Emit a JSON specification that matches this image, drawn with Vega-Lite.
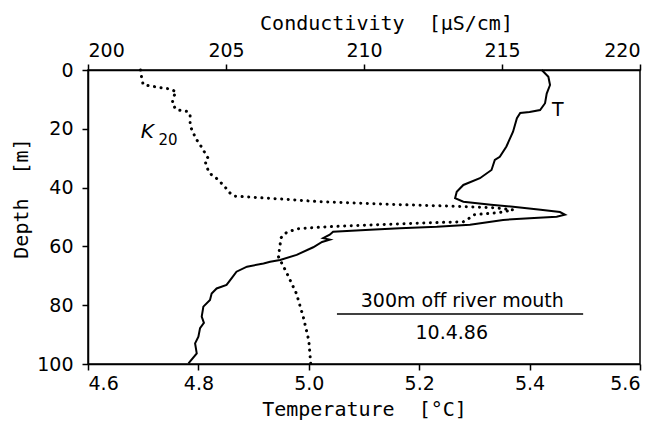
{
  "$schema": "https://vega.github.io/schema/vega-lite/v6.json",
  "width": 552,
  "height": 294,
  "autosize": {"type": "none"},
  "padding": {"left": 88, "top": 70, "right": 14, "bottom": 64},
  "background": "white",
  "config": {
    "view": {"stroke": "black", "strokeWidth": 1.5},
    "axis": {
      "domainColor": "black", "tickColor": "black", "labelColor": "black", "titleColor": "black",
      "labelFont": "DejaVu Sans", "titleFont": "DejaVu Sans Mono", "labelFontSize": 19, "titleFontSize": 20,
      "titleFontWeight": "normal", "grid": false, "domainWidth": 1.5, "tickWidth": 1.5, "tickSize": 6
    },
    "text": {"font": "DejaVu Sans", "color": "black"}
  },
  "datasets": {
    "temp": [
      {"i": 1, "temperature": 5.422, "depth": 0},
      {"i": 2, "temperature": 5.434, "depth": 2.3},
      {"i": 3, "temperature": 5.437, "depth": 5.1},
      {"i": 4, "temperature": 5.431, "depth": 8},
      {"i": 5, "temperature": 5.428, "depth": 11.3},
      {"i": 6, "temperature": 5.419, "depth": 13.6},
      {"i": 7, "temperature": 5.4, "depth": 14.3},
      {"i": 8, "temperature": 5.383, "depth": 14.6},
      {"i": 9, "temperature": 5.377, "depth": 16.4},
      {"i": 10, "temperature": 5.37, "depth": 21},
      {"i": 11, "temperature": 5.358, "depth": 26},
      {"i": 12, "temperature": 5.346, "depth": 29.5},
      {"i": 13, "temperature": 5.337, "depth": 30.6},
      {"i": 14, "temperature": 5.331, "depth": 34},
      {"i": 15, "temperature": 5.31, "depth": 36.8},
      {"i": 16, "temperature": 5.28, "depth": 39.1},
      {"i": 17, "temperature": 5.268, "depth": 41.4},
      {"i": 18, "temperature": 5.265, "depth": 43.6},
      {"i": 19, "temperature": 5.28, "depth": 44.8},
      {"i": 20, "temperature": 5.33, "depth": 45.8},
      {"i": 21, "temperature": 5.37, "depth": 46.5},
      {"i": 22, "temperature": 5.42, "depth": 47.5},
      {"i": 23, "temperature": 5.455, "depth": 48.3},
      {"i": 24, "temperature": 5.464, "depth": 49.2},
      {"i": 25, "temperature": 5.449, "depth": 49.9},
      {"i": 26, "temperature": 5.4, "depth": 50.4},
      {"i": 27, "temperature": 5.352, "depth": 51},
      {"i": 28, "temperature": 5.292, "depth": 52.6},
      {"i": 29, "temperature": 5.232, "depth": 53.3},
      {"i": 30, "temperature": 5.165, "depth": 53.8},
      {"i": 31, "temperature": 5.111, "depth": 54.3},
      {"i": 32, "temperature": 5.044, "depth": 55.0},
      {"i": 33, "temperature": 5.038, "depth": 56.0},
      {"i": 34, "temperature": 5.026, "depth": 57.2},
      {"i": 35, "temperature": 5.038, "depth": 57.7},
      {"i": 36, "temperature": 5.024, "depth": 58.5},
      {"i": 37, "temperature": 5.008, "depth": 60.3},
      {"i": 38, "temperature": 4.978, "depth": 62.9},
      {"i": 39, "temperature": 4.948, "depth": 64.6},
      {"i": 40, "temperature": 4.93, "depth": 65.2},
      {"i": 41, "temperature": 4.918, "depth": 65.8},
      {"i": 42, "temperature": 4.888, "depth": 66.9},
      {"i": 43, "temperature": 4.869, "depth": 68.6},
      {"i": 44, "temperature": 4.86, "depth": 70.9},
      {"i": 45, "temperature": 4.851, "depth": 73.1},
      {"i": 46, "temperature": 4.833, "depth": 74.3},
      {"i": 47, "temperature": 4.824, "depth": 76},
      {"i": 48, "temperature": 4.821, "depth": 78.2},
      {"i": 49, "temperature": 4.809, "depth": 80.5},
      {"i": 50, "temperature": 4.806, "depth": 83.9},
      {"i": 51, "temperature": 4.81, "depth": 86},
      {"i": 52, "temperature": 4.803, "depth": 87.8},
      {"i": 53, "temperature": 4.8, "depth": 90.7},
      {"i": 54, "temperature": 4.794, "depth": 93},
      {"i": 55, "temperature": 4.797, "depth": 96.4},
      {"i": 56, "temperature": 4.782, "depth": 99.8}
    ],
    "cond": [
      {"i": 1, "conductivity": 201.9, "depth": 0},
      {"i": 2, "conductivity": 201.95, "depth": 3},
      {"i": 3, "conductivity": 202.0, "depth": 5},
      {"i": 4, "conductivity": 202.5, "depth": 5.8},
      {"i": 5, "conductivity": 203.0, "depth": 6.5},
      {"i": 6, "conductivity": 203.2, "depth": 7.5},
      {"i": 7, "conductivity": 203.1, "depth": 9},
      {"i": 8, "conductivity": 203.05, "depth": 11.5},
      {"i": 9, "conductivity": 203.2, "depth": 13.5},
      {"i": 10, "conductivity": 203.6, "depth": 14.1},
      {"i": 11, "conductivity": 203.7, "depth": 15},
      {"i": 12, "conductivity": 203.7, "depth": 19},
      {"i": 13, "conductivity": 203.8, "depth": 21},
      {"i": 14, "conductivity": 203.9, "depth": 23.2},
      {"i": 15, "conductivity": 204.1, "depth": 26},
      {"i": 16, "conductivity": 204.35, "depth": 30},
      {"i": 17, "conductivity": 204.25, "depth": 31.2},
      {"i": 18, "conductivity": 204.3, "depth": 32.9},
      {"i": 19, "conductivity": 204.4, "depth": 35.1},
      {"i": 20, "conductivity": 204.65, "depth": 36.8},
      {"i": 21, "conductivity": 204.9, "depth": 39.1},
      {"i": 22, "conductivity": 205.15, "depth": 41.9},
      {"i": 23, "conductivity": 205.3, "depth": 42.9},
      {"i": 24, "conductivity": 206.0, "depth": 43.3},
      {"i": 25, "conductivity": 207.2, "depth": 44.0},
      {"i": 26, "conductivity": 208.4, "depth": 44.8},
      {"i": 27, "conductivity": 210.6, "depth": 45.6},
      {"i": 28, "conductivity": 213.1, "depth": 46.3},
      {"i": 29, "conductivity": 214.8, "depth": 46.9},
      {"i": 30, "conductivity": 215.4, "depth": 47.6},
      {"i": 31, "conductivity": 214.9, "depth": 48.5},
      {"i": 32, "conductivity": 214.0, "depth": 49.2},
      {"i": 33, "conductivity": 213.8, "depth": 50.5},
      {"i": 34, "conductivity": 213.6, "depth": 51.6},
      {"i": 35, "conductivity": 212.0, "depth": 52.1},
      {"i": 36, "conductivity": 210.2, "depth": 52.7},
      {"i": 37, "conductivity": 208.5, "depth": 53.4},
      {"i": 38, "conductivity": 207.6, "depth": 54},
      {"i": 39, "conductivity": 207.2, "depth": 55.2},
      {"i": 40, "conductivity": 207.0, "depth": 57},
      {"i": 41, "conductivity": 206.95, "depth": 60},
      {"i": 42, "conductivity": 206.9, "depth": 63.5},
      {"i": 43, "conductivity": 207.2, "depth": 69},
      {"i": 44, "conductivity": 207.55, "depth": 76},
      {"i": 45, "conductivity": 207.8, "depth": 84},
      {"i": 46, "conductivity": 208.0, "depth": 92},
      {"i": 47, "conductivity": 208.07, "depth": 100}
    ]
  },
  "encoding": {
    "y": {
      "field": "depth", "type": "quantitative",
      "scale": {"domain": [0, 100], "reverse": true, "nice": false},
      "axis": {"title": "Depth\u00a0\u00a0[m]", "values": [0, 20, 40, 60, 80, 100], "labelPadding": 9, "titlePadding": 5, "titleY": 128}
    }
  },
  "layer": [
    {
      "data": {"name": "temp"},
      "mark": {"type": "line", "color": "black", "strokeWidth": 2},
      "encoding": {
        "x": {
          "field": "temperature", "type": "quantitative",
          "scale": {"domain": [4.6, 5.6], "nice": false, "zero": false},
          "axis": {"orient": "bottom", "title": "Temperature\u00a0\u00a0[°C]", "values": [4.6, 4.8, 5.0, 5.2, 5.4, 5.6], "format": ".1f", "labelPadding": 4, "titlePadding": 6}
        },
        "order": {"field": "i", "type": "quantitative"}
      }
    },
    {
      "data": {"name": "cond"},
      "mark": {"type": "line", "color": "black", "strokeWidth": 3, "strokeCap": "round", "strokeDash": [0.1, 6.5]},
      "encoding": {
        "x": {
          "field": "conductivity", "type": "quantitative",
          "scale": {"domain": [200, 220], "nice": false, "zero": false},
          "axis": {"orient": "top", "title": "Conductivity\u00a0\u00a0[µS/cm]", "values": [200, 205, 210, 215, 220], "labelPadding": 4, "titlePadding": 8, "titleX": 298}
        },
        "order": {"field": "i", "type": "quantitative"}
      }
    },
    {
      "data": {"values": [
        {"label": "300m off river mouth", "temperature": 5.278, "depth": 80.5},
        {"label": "10.4.86", "temperature": 5.259, "depth": 91.5},
        {"label": "T", "temperature": 5.451, "depth": 15.5}
      ]},
      "mark": {"type": "text", "fontSize": 19, "align": "center", "baseline": "alphabetic"},
      "encoding": {
        "x": {"field": "temperature", "type": "quantitative", "scale": {"domain": [4.6, 5.6], "nice": false, "zero": false}, "axis": null},
        "text": {"field": "label"}
      }
    },
    {
      "data": {"values": [{"t1": 5.051, "t2": 5.497, "depth": 83}]},
      "mark": {"type": "rule", "color": "black", "strokeWidth": 1.5},
      "encoding": {
        "x": {"field": "t1", "type": "quantitative", "scale": {"domain": [4.6, 5.6], "nice": false, "zero": false}, "axis": null},
        "x2": {"field": "t2"}
      }
    },
    {
      "data": {"values": [{"label": "K", "conductivity": 202.15, "depth": 23.2}]},
      "mark": {"type": "text", "fontSize": 20, "fontStyle": "italic", "align": "center", "baseline": "alphabetic"},
      "encoding": {
        "x": {"field": "conductivity", "type": "quantitative", "scale": {"domain": [200, 220], "nice": false, "zero": false}, "axis": null},
        "text": {"field": "label"}
      }
    },
    {
      "data": {"values": [{"label": "20", "conductivity": 202.9, "depth": 25.6}]},
      "mark": {"type": "text", "fontSize": 15, "align": "center", "baseline": "alphabetic"},
      "encoding": {
        "x": {"field": "conductivity", "type": "quantitative", "scale": {"domain": [200, 220], "nice": false, "zero": false}, "axis": null},
        "text": {"field": "label"}
      }
    }
  ],
  "resolve": {"scale": {"x": "independent"}}
}
